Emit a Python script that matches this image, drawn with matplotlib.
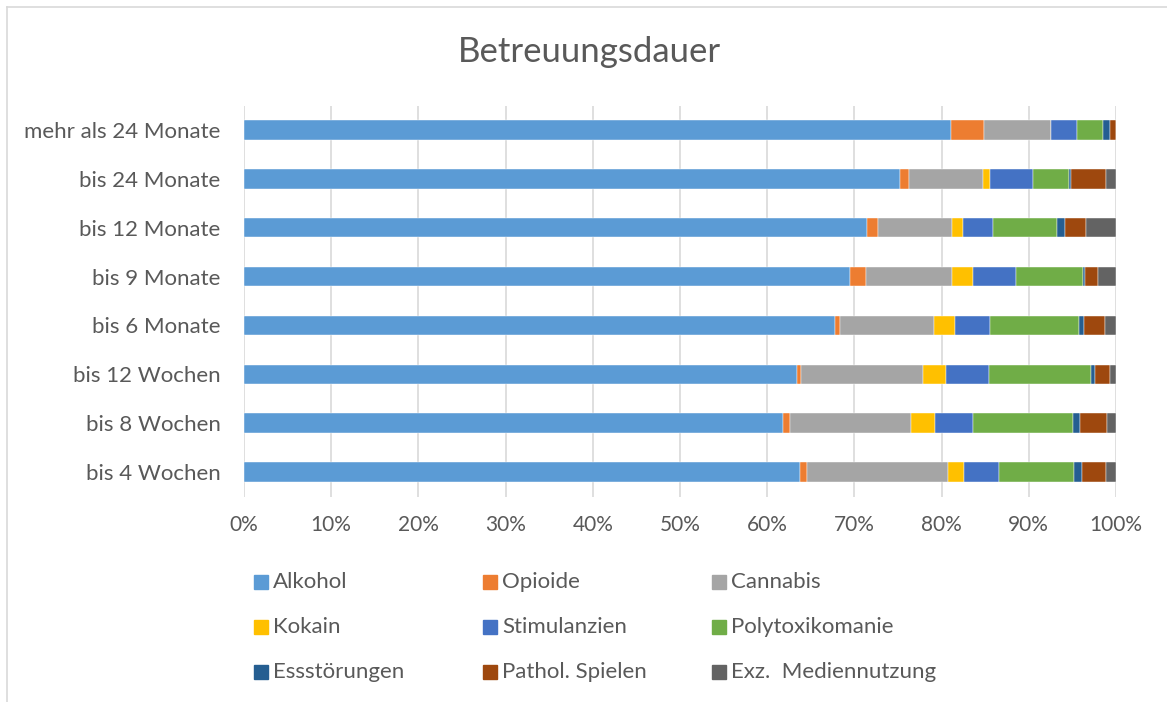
import matplotlib

matplotlib.use("Agg")
import matplotlib.pyplot as plt
from matplotlib.patches import Rectangle
from matplotlib.lines import Line2D
from matplotlib.ticker import PercentFormatter
import numpy as np

plt.rcParams["font.family"] = ["Lato", "DejaVu Sans"]

# categories, top to bottom as shown
categories = [
    "mehr als 24 Monate",
    "bis 24 Monate",
    "bis 12 Monate",
    "bis 9 Monate",
    "bis 6 Monate",
    "bis 12 Wochen",
    "bis 8 Wochen",
    "bis 4 Wochen",
]

series_names = [
    "Alkohol", "Opioide", "Cannabis",
    "Kokain", "Stimulanzien", "Polytoxikomanie",
    "Essstörungen", "Pathol. Spielen", "Exz.  Mediennutzung",
]

# shares in percent, one list per series
alkohol = [81.1, 75.2, 71.5, 69.5, 67.8, 63.4, 61.8, 63.8]
opioide = [3.8, 1.1, 1.2, 1.8, 0.6, 0.5, 0.8, 0.8]
cannabis = [7.6, 8.4, 8.5, 9.9, 10.7, 14.0, 13.9, 16.1]
kokain = [0.0, 0.9, 1.3, 2.4, 2.4, 2.6, 2.8, 1.9]
stimulanzien = [3.0, 4.9, 3.4, 4.9, 4.1, 4.9, 4.3, 4.0]
polytox = [3.0, 4.1, 7.3, 7.7, 10.2, 11.7, 11.5, 8.6]
essstoerungen = [0.8, 0.2, 0.9, 0.2, 0.5, 0.5, 0.8, 0.9]
spielen = [0.7, 4.1, 2.5, 1.5, 2.4, 1.7, 3.1, 2.8]
medien = [0.0, 1.1, 3.4, 2.1, 1.3, 0.7, 1.0, 1.1]

series_values = [alkohol, opioide, cannabis, kokain, stimulanzien,
                 polytox, essstoerungen, spielen, medien]
colors = ["#5B9BD5", "#ED7D31", "#A5A5A5", "#FFC000", "#4472C4",
          "#70AD47", "#255E91", "#9E480E", "#636363"]

TXT = "#595959"
W, H = 1167, 702

fig = plt.figure(figsize=(W / 100, H / 100), dpi=100)
ax = fig.add_axes([244 / W, 1 - 496.5 / H, (1116 - 244) / W, (496.5 - 105.5) / H])

y = np.arange(len(categories))
left = np.zeros(len(categories))
for name, vals, col in zip(series_names, series_values, colors):
    vals = np.array(vals)
    ax.barh(y, vals, left=left, height=0.4, color=col, edgecolor="white",
            linewidth=0.3, label=name, zorder=3)
    left += vals

ax.set_xlim(0, 100)
ax.set_ylim(len(categories) - 0.5, -0.5)
ax.set_xticks(np.arange(0, 101, 10))
ax.xaxis.set_major_formatter(PercentFormatter(decimals=0))
ax.set_yticks(y)
ax.set_yticklabels(categories)
ax.tick_params(axis="x", length=0, pad=13, labelsize=15, labelcolor=TXT)
ax.tick_params(axis="y", length=0, pad=17, labelsize=16, labelcolor=TXT)
ax.grid(True, axis="x", color="#D9D9D9", lw=1.2, zorder=0)
for s in ax.spines.values():
    s.set_visible(False)

fig.text(589 / W, 1 - 52 / H, "Betreuungsdauer", ha="center", va="center",
         fontsize=25, color=TXT)

# legend, three equal columns like the original
for i, (name, col) in enumerate(zip(series_names, colors)):
    cx = 254 + (i % 3) * 229
    cy = 582 + (i // 3) * 45
    fig.patches.append(Rectangle((cx / W, 1 - (cy + 7) / H), 14 / W, 14 / H,
                                 transform=fig.transFigure, color=col))
    fig.text((cx + 19) / W, 1 - cy / H, name, ha="left", va="center",
             fontsize=16, color=TXT)

# chart frame (left and top edges visible)
fig.lines.append(Line2D([7 / W, 7 / W], [0, 1 - 7 / H], transform=fig.transFigure,
                        color="#D9D9D9", lw=1.2))
fig.lines.append(Line2D([7 / W, 1], [1 - 7 / H, 1 - 7 / H], transform=fig.transFigure,
                        color="#D9D9D9", lw=1.2))

fig.savefig("out.png", dpi=100)
